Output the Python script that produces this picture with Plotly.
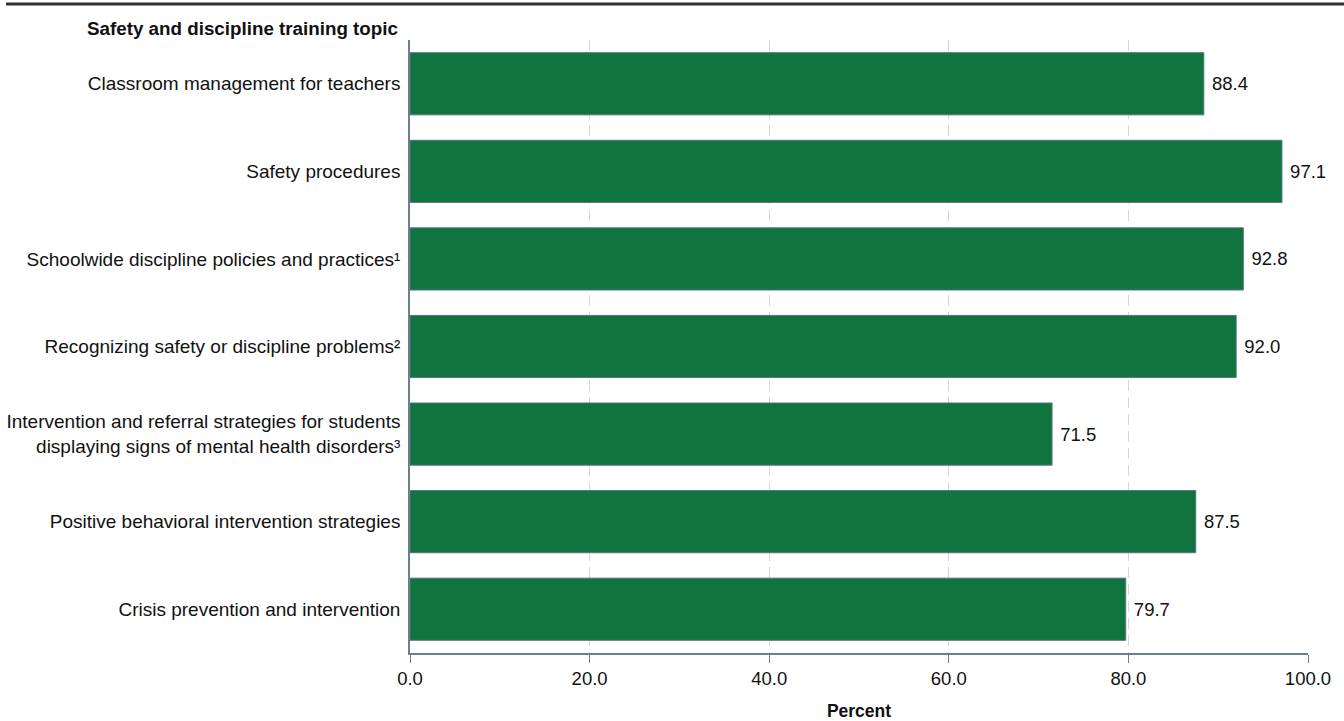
import plotly.graph_objects as go

# Share of schools providing each training topic (percent)
topics = [
    "Classroom management for teachers",
    "Safety procedures",
    "Schoolwide discipline policies and practices¹",
    "Recognizing safety or discipline problems²",
    "Intervention and referral strategies for students<br>displaying signs of mental health disorders³",
    "Positive behavioral intervention strategies",
    "Crisis prevention and intervention",
]
percents = [88.4, 97.1, 92.8, 92.0, 71.5, 87.5, 79.7]
x_ticks = [0, 20, 40, 60, 80, 100]
x_tick_labels = ["0.0", "20.0", "40.0", "60.0", "80.0", "100.0"]

FONT = "Liberation Sans, Arial, sans-serif"
AXIS_COLOR = "#6b7f90"
BAR_COLOR = "#0f743d"

fig = go.Figure(
    go.Bar(
        x=percents,
        y=topics,
        orientation="h",
        width=0.71,
        marker=dict(color=BAR_COLOR, line=dict(color="#5d7285", width=1)),
        texttemplate="\u00a0%{x:.1f}",
        textposition="outside",
        textfont=dict(family=FONT, size=18.5, color="#111111"),
        cliponaxis=False,
        hoverinfo="skip",
    )
)

W, H = 1344, 721
ML, MR, MT, MB = 410, 36, 40, 68
pw = W - ML - MR
ph = H - MT - MB

fig.update_layout(
    width=W,
    height=H,
    margin=dict(l=ML, r=MR, t=MT, b=MB, pad=0, autoexpand=False),
    paper_bgcolor="white",
    plot_bgcolor="white",
    showlegend=False,
    font=dict(family=FONT, size=18.5, color="#111111"),
    bargap=0.29,
)

fig.update_xaxes(
    automargin=False,
    range=[0, 100],
    tickvals=x_ticks,
    ticktext=x_tick_labels,
    showgrid=True,
    gridcolor="#d6d6d6",
    gridwidth=1.2,
    griddash="11px,6px",
    zeroline=False,
    showline=True,
    linecolor=AXIS_COLOR,
    linewidth=1.5,
    ticks="outside",
    ticklen=8,
    tickcolor=AXIS_COLOR,
    tickwidth=1,
    tickfont=dict(size=18.5, color="#111111"),
    title=dict(text="<b>Percent</b>", font=dict(size=17.5), standoff=18),
)

fig.update_yaxes(
    automargin=False,
    autorange="reversed",
    showgrid=False,
    zeroline=False,
    showline=True,
    linecolor=AXIS_COLOR,
    linewidth=1.5,
    ticks="",
    ticklabelstandoff=4,
    tickfont=dict(size=19, color="#111111"),
)

# Category heading above the labels
fig.add_annotation(
    text="<b>Safety and discipline training topic</b>",
    xref="paper", yref="paper",
    x=0, y=1,
    xshift=-10, yshift=-1,
    xanchor="right", yanchor="bottom",
    showarrow=False,
    font=dict(size=18.8, color="#111111"),
)

# Heavy rule across the top
fig.add_shape(
    type="line",
    xref="paper", yref="paper",
    x0=(6 - ML) / pw, x1=(W - ML) / pw,
    y0=1 + (MT - 4) / ph, y1=1 + (MT - 4) / ph,
    line=dict(color="#333333", width=3),
)

fig.write_html("out.html")
